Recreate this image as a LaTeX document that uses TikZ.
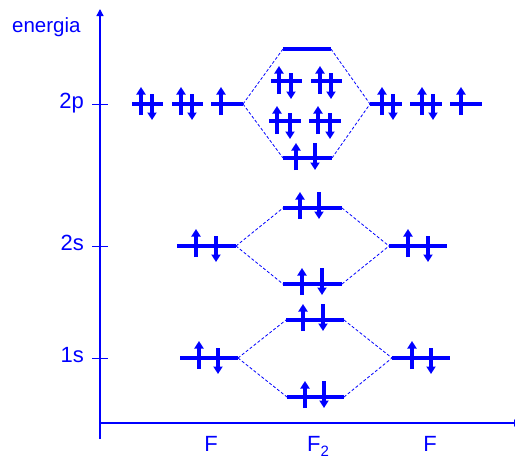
\documentclass[tikz,border=0pt]{standalone}
\usepackage{fontspec}
\setmainfont{Liberation Sans}
\usetikzlibrary{arrows.meta}

\begin{document}
\begin{tikzpicture}[
  x=1pt, y=-1pt,
  lbl/.style={text=blue, inner sep=0pt, font=\fontsize{22}{22}\selectfont},
  axis/.style={draw=blue, line width=1.3pt},
  level/.style={draw=blue, line width=3.2pt},
  link/.style={draw=blue, line width=0.8pt, dash pattern=on 3pt off 2pt},
  spin/.style={draw=blue, line width=3.4pt, -{Triangle[length=7.5pt, width=9pt]}},
  spinup/.pic={\draw[spin] (0,11) -- (0,-17);},
  spindown/.pic={\draw[spin] (0,-10) -- (0,16);},
  sigmaup/.pic={\draw[spin] (0,11) -- (0,-16);},
  sigmadown/.pic={\draw[spin] (0,-16) -- (0,11);}
]
\useasboundingbox (0,0) rectangle (515,459);

% axes
\draw[axis, -{Triangle[length=7pt, width=7pt]}] (100,439) coordinate (ybot) -- (100,9) coordinate (ytop);
\draw[axis, -{Triangle[length=7pt, width=7pt]}] (100,423) coordinate (xleft) -- (521,423) coordinate (xright);
\node[lbl, anchor=base west, font=\fontsize{20.5}{20.5}\selectfont] (energia) at (12,32) {energia};
\foreach \name/\y in {2p/104, 2s/246, 1s/358} {
  \draw[axis, line width=0.8pt] (92,\y) -- (108,\y);
  \node[lbl, anchor=base east] (lbl\name) at (84,\y+4) {\name};
}
\node[lbl, anchor=base] (atomL) at (211,451) {F};
\node[lbl, anchor=base] (mol) at (318,451) {F\raisebox{-5pt}{\fontsize{15}{15}\selectfont 2}};
\node[lbl, anchor=base] (atomR) at (430,451) {F};

% atomic levels of F
\draw[level] (180,358) coordinate (L1s-a) -- (238,358) coordinate (L1s-b);
\draw[level] (392,358) coordinate (R1s-a) -- (450,358) coordinate (R1s-b);
\draw[level] (177,246) coordinate (L2s-a) -- (236,246) coordinate (L2s-b);
\draw[level] (389,246) coordinate (R2s-a) -- (447,246) coordinate (R2s-b);
\foreach \x in {132,172} \draw[level] (\x,104) -- (\x+31,104);
\draw[level] (211,104) -- (243,104) coordinate (L2p-b);
\draw[level] (370,104) coordinate (R2p-a) -- (402,104);
\foreach \x in {410,450} \draw[level] (\x,104) -- (\x+32,104);

% molecular levels of F2
\draw[level] (287,397) coordinate (M1s-a) -- (344,397) coordinate (M1s-b);
\draw[level] (286,320) coordinate (S1s-a) -- (344,320) coordinate (S1s-b);
\draw[level] (283,284) coordinate (M2s-a) -- (342,284) coordinate (M2s-b);
\draw[level] (283,208) coordinate (S2s-a) -- (342,208) coordinate (S2s-b);
\draw[level] (283,158) coordinate (M2p-a) -- (332,158) coordinate (M2p-b);
\draw[level] (283,49) coordinate (S2p-a) -- (331,49) coordinate (S2p-b);
\foreach \x in {269,309} \draw[level] (\x,121) -- (\x+32,121);
\foreach \x in {271,311} \draw[level] (\x,81) -- (\x+31,81);

% correlation lines
\foreach \n in {1s,2s,2p} {
  \draw[link] (L\n-b) -- (M\n-a);
  \draw[link] (L\n-b) -- (S\n-a);
  \draw[link] (M\n-b) -- (R\n-a);
  \draw[link] (S\n-b) -- (R\n-a);
}

% electrons
\foreach \x/\y in {141/104, 181/104, 221/104, 382/104, 422/104, 461/104,
                   279/83, 320/83, 277/123, 318/123,
                   196/246, 408/246, 199/358, 412/358}
  \pic at (\x,\y) {spinup};
\foreach \x/\y in {152/104, 192/104, 393/104, 433/104,
                   291/83, 331/83, 290/123, 330/123,
                   216/246, 428/246, 218/358, 431/358}
  \pic at (\x,\y) {spindown};
\foreach \x/\y in {296/159, 300/208, 302/284, 303/320, 305/397}
  \pic at (\x,\y) {sigmaup};
\foreach \x/\y in {315/159, 319/208, 322/284, 323/320, 324/397}
  \pic at (\x,\y) {sigmadown};
\end{tikzpicture}
\end{document}
